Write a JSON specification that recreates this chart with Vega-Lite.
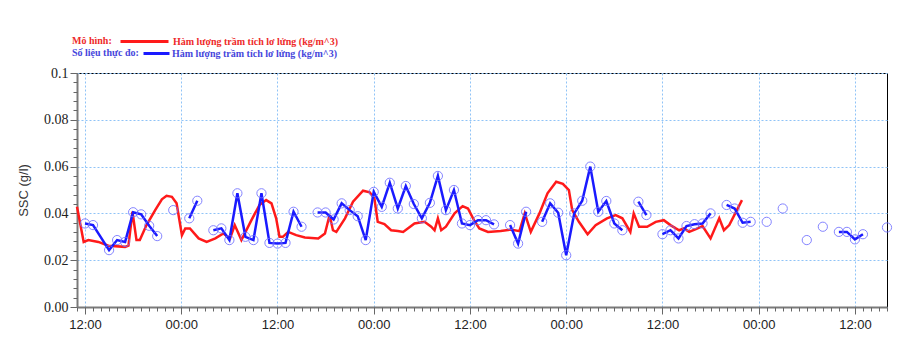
{
  "$schema": "https://vega.github.io/schema/vega-lite/v6.json",
  "width": 810,
  "height": 234,
  "padding": {"left": 77, "top": 73, "right": 18, "bottom": 41},
  "autosize": {"type": "none"},
  "background": "white",
  "config": {
    "view": {"stroke": "#000000", "strokeWidth": 1},
    "axis": {"gridColor": "#8fc3f7", "gridDash": [2, 2], "gridWidth": 1, "domainColor": "#7a7a7a", "domainWidth": 2, "tickColor": "#666666"},
    "legend": {"titleFont": "Liberation Serif", "labelFont": "Liberation Serif", "titleFontSize": 10, "labelFontSize": 10, "titleFontWeight": "bold", "labelFontWeight": "bold", "labelLimit": 400}
  },
  "datasets": {
    "model": [
      {"t": "2020-01-01T11:00Z", "ssc": 0.0428},
      {"t": "2020-01-01T11:50Z", "ssc": 0.0278},
      {"t": "2020-01-01T12:25Z", "ssc": 0.0286},
      {"t": "2020-01-01T13:40Z", "ssc": 0.0278},
      {"t": "2020-01-01T14:55Z", "ssc": 0.0262},
      {"t": "2020-01-01T17:00Z", "ssc": 0.0257},
      {"t": "2020-01-01T17:25Z", "ssc": 0.0262},
      {"t": "2020-01-01T17:55Z", "ssc": 0.0407},
      {"t": "2020-01-01T18:25Z", "ssc": 0.0286},
      {"t": "2020-01-01T18:50Z", "ssc": 0.0286},
      {"t": "2020-01-01T19:40Z", "ssc": 0.035},
      {"t": "2020-01-01T20:45Z", "ssc": 0.0414},
      {"t": "2020-01-01T21:35Z", "ssc": 0.046},
      {"t": "2020-01-01T22:10Z", "ssc": 0.0475},
      {"t": "2020-01-01T22:50Z", "ssc": 0.0471},
      {"t": "2020-01-01T23:25Z", "ssc": 0.0443},
      {"t": "2020-01-02T00:05Z", "ssc": 0.0307},
      {"t": "2020-01-02T00:30Z", "ssc": 0.0336},
      {"t": "2020-01-02T01:05Z", "ssc": 0.0336},
      {"t": "2020-01-02T02:10Z", "ssc": 0.0293},
      {"t": "2020-01-02T03:10Z", "ssc": 0.0278},
      {"t": "2020-01-02T04:15Z", "ssc": 0.0293},
      {"t": "2020-01-02T05:15Z", "ssc": 0.0314},
      {"t": "2020-01-02T06:05Z", "ssc": 0.0293},
      {"t": "2020-01-02T06:40Z", "ssc": 0.035},
      {"t": "2020-01-02T07:30Z", "ssc": 0.0286},
      {"t": "2020-01-02T08:45Z", "ssc": 0.0371},
      {"t": "2020-01-02T09:45Z", "ssc": 0.0436},
      {"t": "2020-01-02T10:35Z", "ssc": 0.0457},
      {"t": "2020-01-02T11:15Z", "ssc": 0.0443},
      {"t": "2020-01-02T11:50Z", "ssc": 0.0379},
      {"t": "2020-01-02T12:15Z", "ssc": 0.030},
      {"t": "2020-01-02T12:40Z", "ssc": 0.030},
      {"t": "2020-01-02T13:20Z", "ssc": 0.0321},
      {"t": "2020-01-02T14:20Z", "ssc": 0.0307},
      {"t": "2020-01-02T15:25Z", "ssc": 0.0297},
      {"t": "2020-01-02T17:05Z", "ssc": 0.0293},
      {"t": "2020-01-02T17:55Z", "ssc": 0.0314},
      {"t": "2020-01-02T18:30Z", "ssc": 0.0393},
      {"t": "2020-01-02T18:55Z", "ssc": 0.0328},
      {"t": "2020-01-02T19:20Z", "ssc": 0.0321},
      {"t": "2020-01-02T20:25Z", "ssc": 0.0379},
      {"t": "2020-01-02T21:25Z", "ssc": 0.045},
      {"t": "2020-01-02T22:40Z", "ssc": 0.0497},
      {"t": "2020-01-02T23:30Z", "ssc": 0.049},
      {"t": "2020-01-03T00:05Z", "ssc": 0.0464},
      {"t": "2020-01-03T00:30Z", "ssc": 0.0364},
      {"t": "2020-01-03T01:20Z", "ssc": 0.0354},
      {"t": "2020-01-03T02:10Z", "ssc": 0.0328},
      {"t": "2020-01-03T03:00Z", "ssc": 0.0325},
      {"t": "2020-01-03T03:40Z", "ssc": 0.0321},
      {"t": "2020-01-03T05:05Z", "ssc": 0.0357},
      {"t": "2020-01-03T06:20Z", "ssc": 0.0364},
      {"t": "2020-01-03T07:10Z", "ssc": 0.0343},
      {"t": "2020-01-03T07:35Z", "ssc": 0.0328},
      {"t": "2020-01-03T08:00Z", "ssc": 0.0379},
      {"t": "2020-01-03T08:25Z", "ssc": 0.0328},
      {"t": "2020-01-03T09:00Z", "ssc": 0.0343},
      {"t": "2020-01-03T10:05Z", "ssc": 0.040},
      {"t": "2020-01-03T11:05Z", "ssc": 0.0431},
      {"t": "2020-01-03T11:45Z", "ssc": 0.0421},
      {"t": "2020-01-03T12:30Z", "ssc": 0.0371},
      {"t": "2020-01-03T13:10Z", "ssc": 0.0336},
      {"t": "2020-01-03T14:15Z", "ssc": 0.0321},
      {"t": "2020-01-03T15:50Z", "ssc": 0.0325},
      {"t": "2020-01-03T17:05Z", "ssc": 0.0331},
      {"t": "2020-01-03T18:10Z", "ssc": 0.0324},
      {"t": "2020-01-03T18:50Z", "ssc": 0.040},
      {"t": "2020-01-03T19:35Z", "ssc": 0.0321},
      {"t": "2020-01-03T20:40Z", "ssc": 0.040},
      {"t": "2020-01-03T21:40Z", "ssc": 0.0486},
      {"t": "2020-01-03T22:45Z", "ssc": 0.0535},
      {"t": "2020-01-03T23:35Z", "ssc": 0.0526},
      {"t": "2020-01-04T00:20Z", "ssc": 0.050},
      {"t": "2020-01-04T00:45Z", "ssc": 0.0414},
      {"t": "2020-01-04T01:35Z", "ssc": 0.0364},
      {"t": "2020-01-04T02:40Z", "ssc": 0.0311},
      {"t": "2020-01-04T03:40Z", "ssc": 0.035},
      {"t": "2020-01-04T05:05Z", "ssc": 0.0379},
      {"t": "2020-01-04T06:10Z", "ssc": 0.0393},
      {"t": "2020-01-04T07:00Z", "ssc": 0.0379},
      {"t": "2020-01-04T08:00Z", "ssc": 0.0321},
      {"t": "2020-01-04T08:25Z", "ssc": 0.040},
      {"t": "2020-01-04T09:05Z", "ssc": 0.0343},
      {"t": "2020-01-04T10:05Z", "ssc": 0.0343},
      {"t": "2020-01-04T11:10Z", "ssc": 0.0364},
      {"t": "2020-01-04T12:10Z", "ssc": 0.0371},
      {"t": "2020-01-04T13:00Z", "ssc": 0.035},
      {"t": "2020-01-04T13:40Z", "ssc": 0.0336},
      {"t": "2020-01-04T14:05Z", "ssc": 0.0328},
      {"t": "2020-01-04T14:40Z", "ssc": 0.0336},
      {"t": "2020-01-04T15:20Z", "ssc": 0.0321},
      {"t": "2020-01-04T16:10Z", "ssc": 0.0333},
      {"t": "2020-01-04T17:00Z", "ssc": 0.0346},
      {"t": "2020-01-04T18:00Z", "ssc": 0.0293},
      {"t": "2020-01-04T19:05Z", "ssc": 0.0379},
      {"t": "2020-01-04T19:40Z", "ssc": 0.0328},
      {"t": "2020-01-04T20:20Z", "ssc": 0.035},
      {"t": "2020-01-04T21:55Z", "ssc": 0.0457}
    ],
    "obs": [
      {"t": "2020-01-01T12:00Z", "ssc": 0.0357, "seg": 1},
      {"t": "2020-01-01T13:00Z", "ssc": 0.035, "seg": 1},
      {"t": "2020-01-01T15:00Z", "ssc": 0.0243, "seg": 1},
      {"t": "2020-01-01T16:00Z", "ssc": 0.0286, "seg": 1},
      {"t": "2020-01-01T17:00Z", "ssc": 0.0278, "seg": 1},
      {"t": "2020-01-01T18:00Z", "ssc": 0.0405, "seg": 1},
      {"t": "2020-01-01T19:00Z", "ssc": 0.0396, "seg": 1},
      {"t": "2020-01-01T20:00Z", "ssc": 0.0347, "seg": 1},
      {"t": "2020-01-01T21:00Z", "ssc": 0.0303, "seg": 1},
      {"t": "2020-01-01T23:00Z", "ssc": 0.0414, "seg": 2},
      {"t": "2020-01-02T01:00Z", "ssc": 0.0379, "seg": 3},
      {"t": "2020-01-02T02:00Z", "ssc": 0.0454, "seg": 3},
      {"t": "2020-01-02T04:00Z", "ssc": 0.0328, "seg": 4},
      {"t": "2020-01-02T05:00Z", "ssc": 0.0336, "seg": 4},
      {"t": "2020-01-02T06:00Z", "ssc": 0.0286, "seg": 4},
      {"t": "2020-01-02T07:00Z", "ssc": 0.0486, "seg": 4},
      {"t": "2020-01-02T08:00Z", "ssc": 0.030, "seg": 4},
      {"t": "2020-01-02T09:00Z", "ssc": 0.0286, "seg": 4},
      {"t": "2020-01-02T10:00Z", "ssc": 0.0486, "seg": 4},
      {"t": "2020-01-02T11:00Z", "ssc": 0.0274, "seg": 4},
      {"t": "2020-01-02T12:00Z", "ssc": 0.0271, "seg": 4},
      {"t": "2020-01-02T13:00Z", "ssc": 0.0274, "seg": 4},
      {"t": "2020-01-02T14:00Z", "ssc": 0.0407, "seg": 4},
      {"t": "2020-01-02T15:00Z", "ssc": 0.0343, "seg": 4},
      {"t": "2020-01-02T17:00Z", "ssc": 0.0404, "seg": 5},
      {"t": "2020-01-02T18:00Z", "ssc": 0.0404, "seg": 5},
      {"t": "2020-01-02T19:00Z", "ssc": 0.0374, "seg": 5},
      {"t": "2020-01-02T20:00Z", "ssc": 0.0443, "seg": 5},
      {"t": "2020-01-02T21:00Z", "ssc": 0.0414, "seg": 5},
      {"t": "2020-01-02T22:00Z", "ssc": 0.0388, "seg": 5},
      {"t": "2020-01-02T23:00Z", "ssc": 0.0286, "seg": 5},
      {"t": "2020-01-03T00:00Z", "ssc": 0.0492, "seg": 5},
      {"t": "2020-01-03T01:00Z", "ssc": 0.0428, "seg": 5},
      {"t": "2020-01-03T02:00Z", "ssc": 0.0531, "seg": 5},
      {"t": "2020-01-03T03:00Z", "ssc": 0.0421, "seg": 5},
      {"t": "2020-01-03T04:00Z", "ssc": 0.0517, "seg": 5},
      {"t": "2020-01-03T05:00Z", "ssc": 0.044, "seg": 5},
      {"t": "2020-01-03T06:00Z", "ssc": 0.0379, "seg": 5},
      {"t": "2020-01-03T07:00Z", "ssc": 0.0445, "seg": 5},
      {"t": "2020-01-03T08:00Z", "ssc": 0.056, "seg": 5},
      {"t": "2020-01-03T09:00Z", "ssc": 0.0414, "seg": 5},
      {"t": "2020-01-03T10:00Z", "ssc": 0.050, "seg": 5},
      {"t": "2020-01-03T11:00Z", "ssc": 0.0357, "seg": 5},
      {"t": "2020-01-03T12:00Z", "ssc": 0.035, "seg": 5},
      {"t": "2020-01-03T13:00Z", "ssc": 0.0371, "seg": 5},
      {"t": "2020-01-03T14:00Z", "ssc": 0.0371, "seg": 5},
      {"t": "2020-01-03T15:00Z", "ssc": 0.0353, "seg": 5},
      {"t": "2020-01-03T17:00Z", "ssc": 0.035, "seg": 6},
      {"t": "2020-01-03T18:00Z", "ssc": 0.0271, "seg": 6},
      {"t": "2020-01-03T19:00Z", "ssc": 0.0407, "seg": 6},
      {"t": "2020-01-03T21:00Z", "ssc": 0.0364, "seg": 7},
      {"t": "2020-01-03T22:00Z", "ssc": 0.0443, "seg": 7},
      {"t": "2020-01-03T23:00Z", "ssc": 0.0403, "seg": 7},
      {"t": "2020-01-04T00:00Z", "ssc": 0.0221, "seg": 7},
      {"t": "2020-01-04T01:00Z", "ssc": 0.040, "seg": 7},
      {"t": "2020-01-04T02:00Z", "ssc": 0.0454, "seg": 7},
      {"t": "2020-01-04T03:00Z", "ssc": 0.060, "seg": 7},
      {"t": "2020-01-04T04:00Z", "ssc": 0.0407, "seg": 7},
      {"t": "2020-01-04T05:00Z", "ssc": 0.0453, "seg": 7},
      {"t": "2020-01-04T06:00Z", "ssc": 0.0357, "seg": 7},
      {"t": "2020-01-04T07:00Z", "ssc": 0.0328, "seg": 7},
      {"t": "2020-01-04T09:00Z", "ssc": 0.045, "seg": 8},
      {"t": "2020-01-04T10:00Z", "ssc": 0.0393, "seg": 8},
      {"t": "2020-01-04T12:00Z", "ssc": 0.0311, "seg": 9},
      {"t": "2020-01-04T13:00Z", "ssc": 0.0328, "seg": 9},
      {"t": "2020-01-04T14:00Z", "ssc": 0.0293, "seg": 9},
      {"t": "2020-01-04T15:00Z", "ssc": 0.0346, "seg": 9},
      {"t": "2020-01-04T16:00Z", "ssc": 0.0354, "seg": 9},
      {"t": "2020-01-04T17:00Z", "ssc": 0.0357, "seg": 9},
      {"t": "2020-01-04T18:00Z", "ssc": 0.040, "seg": 9},
      {"t": "2020-01-04T20:00Z", "ssc": 0.0436, "seg": 10},
      {"t": "2020-01-04T21:00Z", "ssc": 0.0421, "seg": 10},
      {"t": "2020-01-04T22:00Z", "ssc": 0.036, "seg": 10},
      {"t": "2020-01-04T23:00Z", "ssc": 0.0364, "seg": 10},
      {"t": "2020-01-05T01:00Z", "ssc": 0.0364, "seg": 11},
      {"t": "2020-01-05T03:00Z", "ssc": 0.0421, "seg": 12},
      {"t": "2020-01-05T06:00Z", "ssc": 0.0286, "seg": 13},
      {"t": "2020-01-05T08:00Z", "ssc": 0.0343, "seg": 14},
      {"t": "2020-01-05T10:00Z", "ssc": 0.0321, "seg": 15},
      {"t": "2020-01-05T11:00Z", "ssc": 0.0321, "seg": 15},
      {"t": "2020-01-05T12:00Z", "ssc": 0.0289, "seg": 15},
      {"t": "2020-01-05T13:00Z", "ssc": 0.0311, "seg": 15},
      {"t": "2020-01-05T16:00Z", "ssc": 0.034, "seg": 16}
    ]
  },
  "layer": [
    {
      "data": {"name": "model"},
      "mark": {"type": "line", "strokeWidth": 2.5},
      "encoding": {
        "x": {"field": "t", "type": "temporal",
              "scale": {"type": "utc", "domain": [1577876400000, 1578240000000], "nice": false},
              "axis": {"title": null, "orient": "bottom", "format": "%H:%M", "grid": true,
                       "values": [1577880000000, 1577923200000, 1577966400000, 1578009600000, 1578052800000, 1578096000000, 1578139200000, 1578182400000, 1578225600000],
                       "labelFont": "Liberation Sans", "labelFontSize": 13, "labelColor": "#222222", "tickSize": 7, "labelPadding": 4, "labelFlush": false}},
        "y": {"field": "ssc", "type": "quantitative",
              "scale": {"domain": [0, 0.1], "nice": false, "zero": true},
              "axis": {"title": "SSC (g/l)", "orient": "left", "values": [0, 0.02, 0.04, 0.06, 0.08, 0.1], "grid": true,
                       "labelExpr": "datum.value >= 0.099 ? '0.1' : format(datum.value, '.2f')",
                       "labelFont": "Liberation Serif", "labelFontSize": 14, "labelColor": "#222222", "tickSize": 7, "labelPadding": 2,
                       "titleFont": "Liberation Sans", "titleFontSize": 13, "titleFontWeight": "normal", "titleColor": "#333333", "titlePadding": 13}},
        "color": {"datum": "Hàm lượng trầm tích lơ lửng (kg/m^3)", "type": "nominal",
                  "scale": {"range": ["#ff1a1a"]},
                  "legend": {"title": "Mô hình:", "orient": "none", "legendX": -5, "legendY": -39, "titleOrient": "left", "titleColor": "#ee2a2a", "labelColor": "#ee2a2a",
                             "symbolType": "M-1,0H7", "symbolSize": 144, "symbolStrokeWidth": 3, "titlePadding": 7, "labelOffset": 39}}
      }
    },
    {
      "data": {"name": "obs"},
      "mark": {"type": "line", "strokeWidth": 2.5},
      "encoding": {
        "x": {"field": "t", "type": "temporal", "axis": null,
              "scale": {"type": "utc", "domain": [1577876400000, 1578240000000], "nice": false}},
        "y": {"field": "ssc", "type": "quantitative", "axis": null, "scale": {"domain": [0, 0.1], "nice": false}},
        "detail": {"field": "seg", "type": "nominal"},
        "color": {"datum": "Hàm lượng trầm tích lơ lửng (kg/m^3)", "type": "nominal",
                  "scale": {"range": ["#1a1aff"]},
                  "legend": {"title": "Số liệu thực đo:", "orient": "none", "legendX": -5, "legendY": -27, "titleOrient": "left", "titleColor": "#4646dc", "labelColor": "#4646dc",
                             "symbolType": "M-1,0H3.333", "symbolSize": 144, "symbolStrokeWidth": 3, "titlePadding": 3, "labelOffset": 15}}
      }
    },
    {
      "data": {"name": "obs"},
      "mark": {"type": "point", "filled": false, "size": 85, "stroke": "#7070ff", "strokeWidth": 1, "opacity": 0.85},
      "encoding": {
        "x": {"field": "t", "type": "temporal",
              "scale": {"type": "utc", "domain": [1577876400000, 1578240000000], "nice": false},
              "axis": {"title": null, "orient": "bottom", "tickCount": 100, "labels": false, "grid": false, "domain": false, "tickSize": 4}},
        "y": {"field": "ssc", "type": "quantitative", "scale": {"domain": [0, 0.1], "nice": false},
              "axis": {"title": null, "orient": "left", "values": [0.004, 0.008, 0.012, 0.016, 0.024, 0.028, 0.032, 0.036, 0.044, 0.048, 0.052, 0.056, 0.064, 0.068, 0.072, 0.076, 0.084, 0.088, 0.092, 0.096], "labels": false, "grid": false, "domain": false, "tickSize": 4}}
      }
    }
  ],
  "resolve": {"scale": {"color": "independent"}, "axis": {"x": "independent", "y": "independent"}}
}
